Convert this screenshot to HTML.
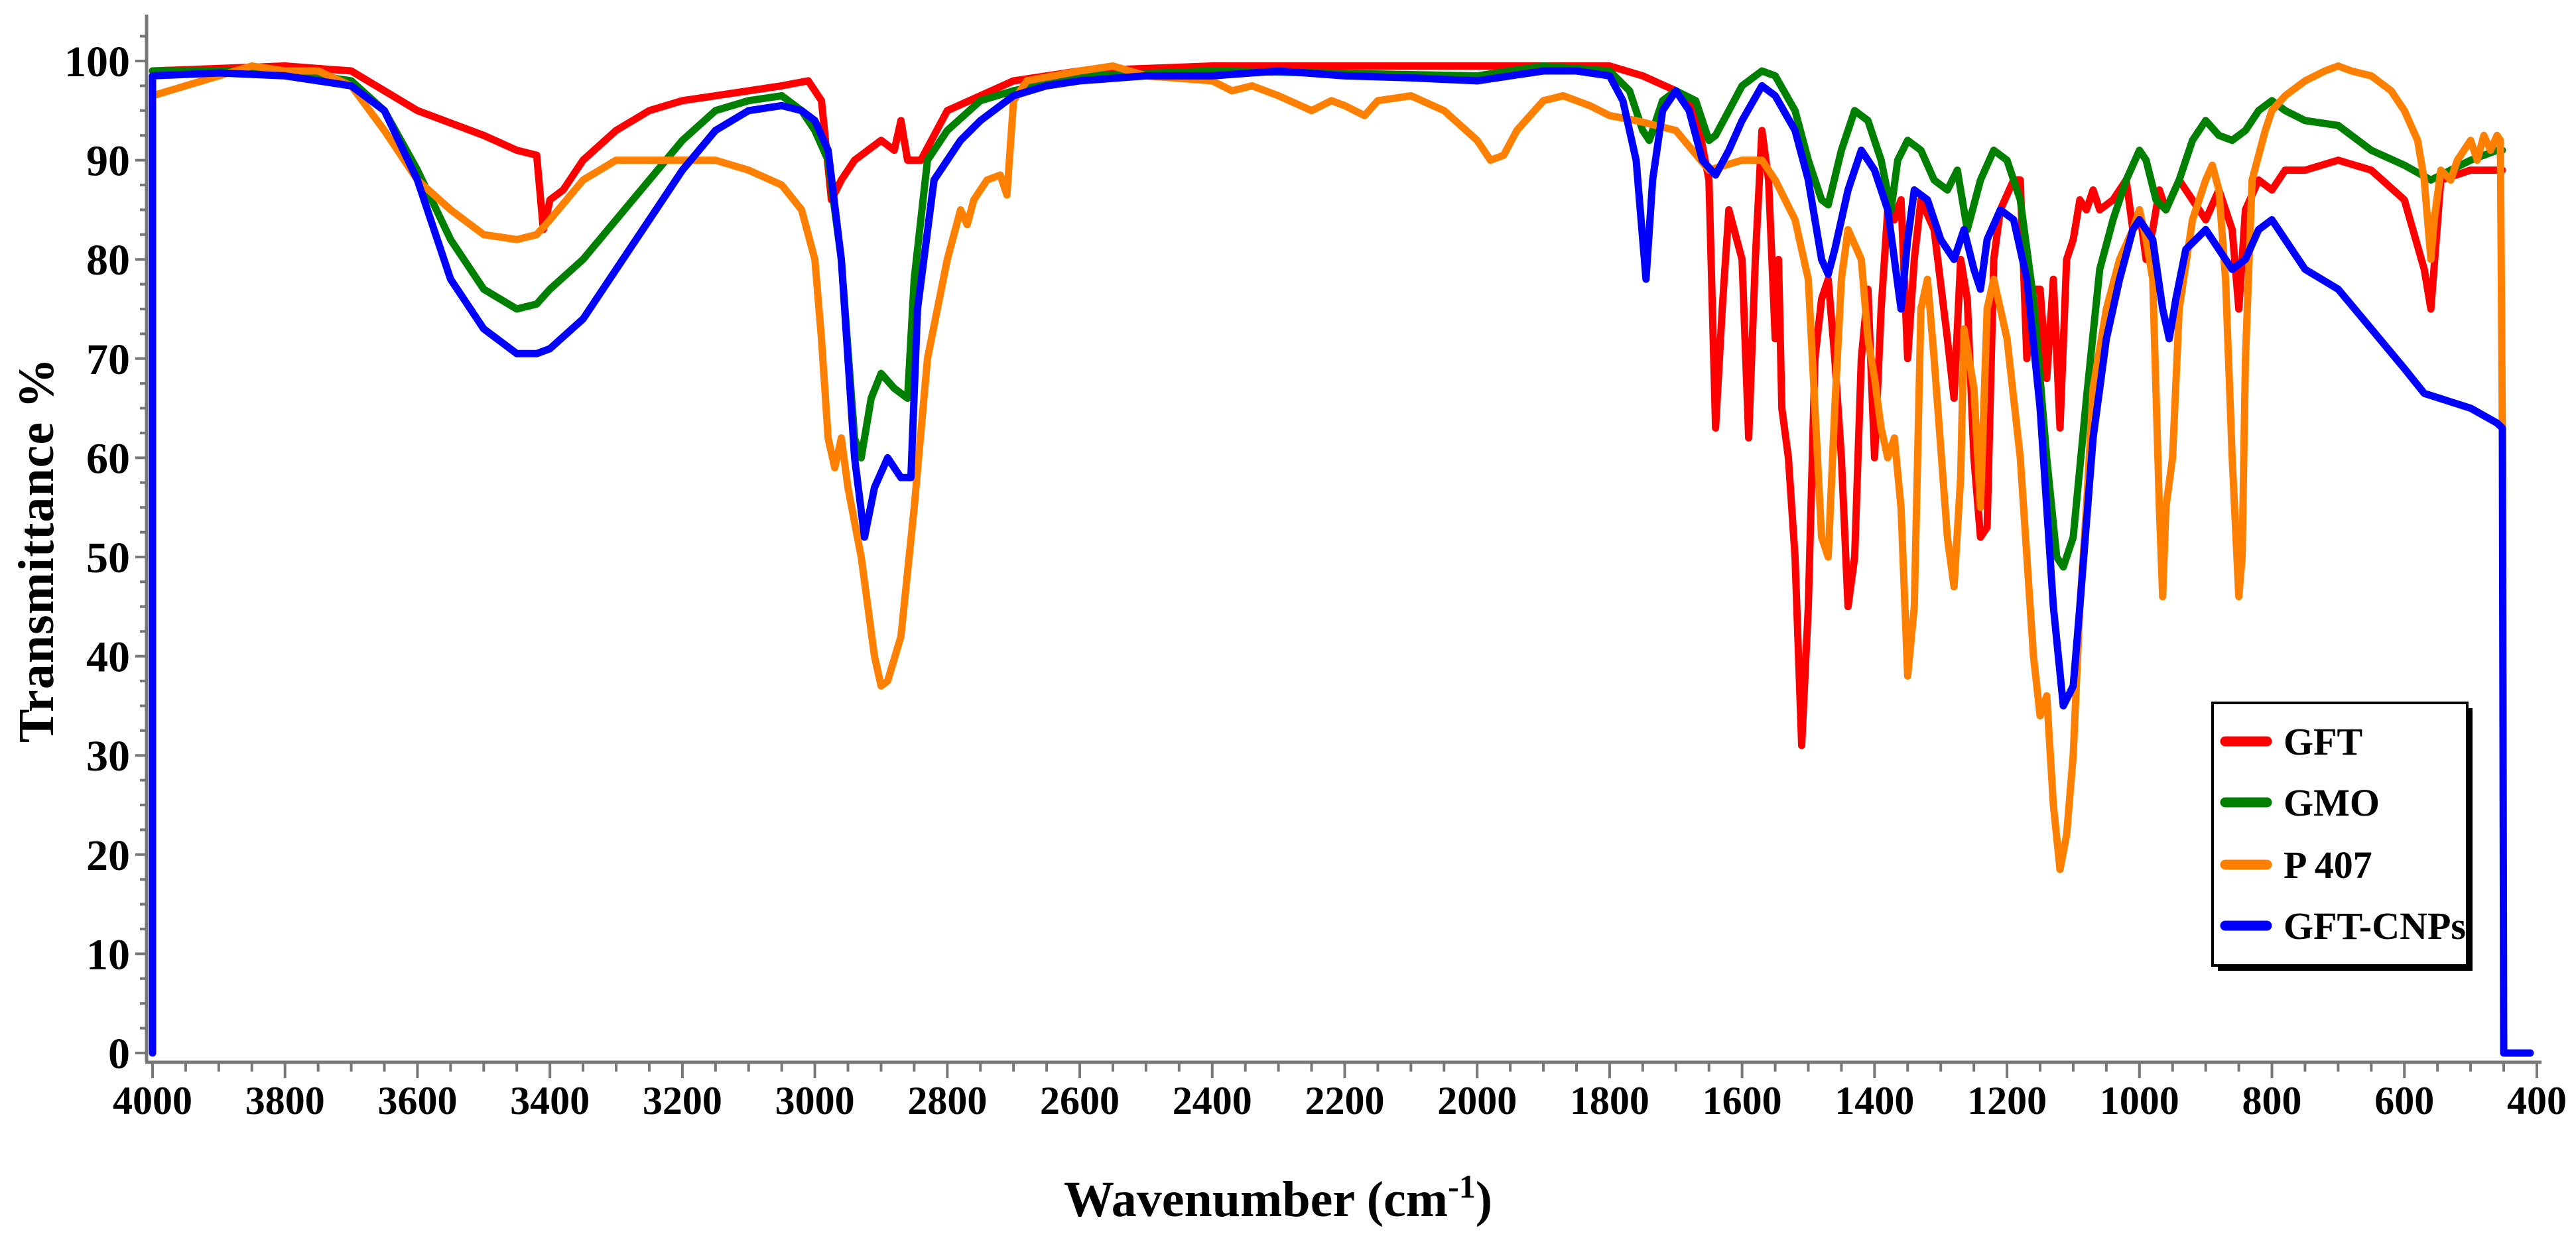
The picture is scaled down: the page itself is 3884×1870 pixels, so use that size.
<!DOCTYPE html>
<html><head><meta charset="utf-8"><title>FTIR spectra</title>
<style>
html,body{margin:0;padding:0;background:#fff;}
svg{display:block;}
text{font-family:"Liberation Serif",serif;fill:#000;}
</style></head>
<body>
<svg id="chart" width="3884" height="1870" viewBox="0 0 3884 1870" xmlns="http://www.w3.org/2000/svg">
<g id="axes"></g>
<g id="series"></g>
<g id="legend">
  <rect x="3344" y="1068" width="384" height="396" fill="#000"/>
  <rect x="3336" y="1060" width="384" height="396" fill="#fff" stroke="#000" stroke-width="4"/>
  <g><line x1="3355" y1="1118" x2="3418" y2="1118" stroke="#ff0000" stroke-width="15" stroke-linecap="round"/><text x="3443" y="1138" font-size="58" font-weight="bold">GFT</text></g>
  <g><line x1="3355" y1="1210" x2="3418" y2="1210" stroke="#008000" stroke-width="15" stroke-linecap="round"/><text x="3443" y="1230" font-size="58" font-weight="bold">GMO</text></g>
  <g><line x1="3355" y1="1304" x2="3418" y2="1304" stroke="#ff8000" stroke-width="15" stroke-linecap="round"/><text x="3443" y="1324" font-size="58" font-weight="bold">P 407</text></g>
  <g><line x1="3355" y1="1396" x2="3418" y2="1396" stroke="#0000ff" stroke-width="15" stroke-linecap="round"/><text x="3443" y="1416" font-size="58" font-weight="bold">GFT-CNPs</text></g>
</g>
<text x="1927" y="1834" font-size="76" font-weight="bold" text-anchor="middle">Wavenumber (cm<tspan font-size="50" dy="-28">-1</tspan><tspan dy="28">)</tspan></text>
<text transform="translate(80,830) rotate(-90)" font-size="76" font-weight="bold" text-anchor="middle" textLength="580">Transmittance %</text>
</svg>
<script>
const xTicks=[4000,3800,3600,3400,3200,3000,2800,2600,2400,2200,2000,1800,1600,1400,1200,1000,800,600,400];
const yTicks=[0,10,20,30,40,50,60,70,80,90,100];
const seriesNames=["GFT","GMO","P 407","GFT-CNPs"];
const gftData=[[4000,99],[3800,99.5],[3700,99],[3650,97],[3600,95],[3500,92.5],[3450,91],[3420,90.5],[3410,83],[3400,86],[3380,87],[3350,90],[3300,93],[3250,95],[3200,96],[3150,96.5],[3100,97],[3050,97.5],[3010,98],[2990,96],[2975,86],[2960,88],[2940,90],[2920,91],[2900,92],[2880,91],[2870,94],[2860,90],[2840,90],[2800,95],[2700,98],[2600,99],[2400,99.5],[2000,99.5],[1800,99.5],[1750,98.5],[1700,97],[1670,95],[1650,88],[1640,63],[1630,75],[1620,85],[1600,80],[1590,62],[1580,80],[1570,93],[1560,88],[1550,72],[1545,80],[1540,65],[1530,60],[1520,50],[1510,31],[1500,45],[1490,70],[1480,76],[1470,78],[1460,70],[1450,60],[1440,45],[1430,50],[1420,70],[1410,77],[1400,60],[1390,75],[1380,85],[1370,84],[1360,86],[1350,70],[1340,80],[1330,86],[1310,83],[1290,72],[1280,66],[1270,80],[1260,76],[1250,60],[1240,52],[1230,53],[1220,80],[1210,85],[1190,88],[1180,88],[1170,70],[1160,77],[1150,77],[1140,68],[1130,78],[1120,63],[1110,80],[1100,82],[1090,86],[1080,85],[1070,87],[1060,85],[1040,86],[1020,88],[1010,83],[1000,85],[990,80],[980,83],[970,87],[960,85],[940,88],[930,87],[900,84],[880,87],[860,83],[850,75],[840,85],[820,88],[800,87],[780,89],[750,89],[700,90],[650,89],[600,86],[570,79],[560,75],[545,88],[500,89],[460,89],[452,89]];
const gmoData=[[4000,99],[3800,99],[3700,98],[3650,95],[3600,89],[3550,82],[3500,77],[3450,75],[3420,75.5],[3400,77],[3350,80],[3300,84],[3250,88],[3200,92],[3150,95],[3100,96],[3050,96.5],[3020,95],[3000,93],[2980,90],[2960,80],[2940,62],[2930,60],[2915,66],[2900,68.5],[2880,67],[2860,66],[2850,78],[2830,90],[2800,93],[2750,96],[2700,97],[2600,98.5],[2400,99],[2000,98.5],[1900,99.5],[1800,99],[1770,97],[1750,93],[1740,92],[1720,96],[1700,97],[1670,96],[1650,92],[1640,92.5],[1620,95],[1600,97.5],[1570,99],[1550,98.5],[1520,95],[1500,90],[1480,86],[1470,85.5],[1450,91],[1430,95],[1410,94],[1390,90],[1375,85],[1365,90],[1350,92],[1330,91],[1310,88],[1290,87],[1275,89],[1260,83],[1240,88],[1220,91],[1200,90],[1180,86],[1160,76],[1140,60],[1125,50],[1115,49],[1100,52],[1080,66],[1060,79],[1040,84],[1020,88],[1000,91],[990,90],[975,86],[960,85],[940,88],[920,92],[900,94],[880,92.5],[860,92],[840,93],[820,95],[800,96],[780,95],[750,94],[700,93.5],[650,91],[600,89.5],[560,88],[500,90],[460,91],[452,91]];
const p407Data=[[4000,96.5],[3950,97.5],[3900,98.5],[3850,99.5],[3800,99],[3750,99],[3700,97.5],[3650,93],[3600,88],[3550,85],[3500,82.5],[3450,82],[3420,82.5],[3400,84],[3350,88],[3300,90],[3200,90],[3150,90],[3100,89],[3050,87.5],[3020,85],[3000,80],[2990,72],[2980,62],[2970,59],[2960,62],[2950,57],[2930,50],[2910,40],[2900,37],[2890,37.5],[2870,42],[2850,55],[2830,70],[2800,80],[2780,85],[2770,83.5],[2760,86],[2740,88],[2720,88.5],[2710,86.5],[2700,96],[2680,98],[2600,99],[2550,99.5],[2500,98.5],[2400,98],[2370,97],[2340,97.5],[2300,96.5],[2250,95],[2220,96],[2200,95.5],[2170,94.5],[2150,96],[2100,96.5],[2050,95],[2000,92],[1980,90],[1960,90.5],[1940,93],[1900,96],[1870,96.5],[1830,95.5],[1800,94.5],[1760,94],[1700,93],[1650,89],[1600,90],[1570,90],[1550,88],[1520,84],[1500,78],[1490,65],[1480,52],[1470,50],[1460,65],[1450,78],[1440,83],[1420,80],[1410,72],[1400,68],[1390,63],[1380,60],[1370,62],[1360,55],[1350,38],[1340,45],[1330,75],[1320,78],[1310,70],[1290,52],[1280,47],[1270,58],[1265,73],[1250,67],[1240,55],[1230,75],[1220,78],[1200,72],[1180,60],[1160,40],[1150,34],[1140,36],[1130,25],[1120,18.5],[1110,22],[1100,30],[1090,45],[1080,55],[1070,67],[1050,75],[1030,80],[1010,83],[1000,85],[990,82],[980,78],[970,55],[965,46],[960,55],[950,60],[940,75],[920,84],[900,88],[890,89.5],[880,87],[870,78],[860,60],[850,46],[845,50],[840,70],[830,88],[810,93],[800,95],[780,96.5],[750,98],[720,99],[700,99.5],[680,99],[650,98.5],[620,97],[600,95],[580,92],[570,88],[560,80],[555,84],[545,89],[530,88],[520,90],[500,92],[490,90],[480,92.5],[470,91],[460,92.5],[455,92],[452,62]];
const cnpData=[[4000,0],[4000,98.5],[3900,98.8],[3800,98.5],[3700,97.5],[3650,95],[3600,88],[3550,78],[3500,73],[3450,70.5],[3420,70.5],[3400,71],[3350,74],[3300,79],[3250,84],[3200,89],[3150,93],[3100,95],[3050,95.5],[3020,95],[3000,94],[2980,91],[2960,80],[2940,60],[2925,52],[2910,57],[2890,60],[2870,58],[2855,58],[2845,75],[2820,88],[2780,92],[2750,94],[2700,96.5],[2650,97.5],[2600,98],[2500,98.5],[2400,98.5],[2300,99],[2200,98.5],[2100,98.3],[2000,98],[1950,98.5],[1900,99],[1850,99],[1800,98.5],[1780,96],[1760,90],[1745,78],[1735,88],[1720,95],[1700,97],[1680,95],[1660,90],[1640,88.5],[1620,91],[1600,94],[1570,97.5],[1550,96.5],[1520,93],[1500,88],[1480,80],[1470,78.5],[1460,81],[1440,87],[1420,91],[1400,89],[1380,85],[1370,80],[1360,75],[1350,82],[1340,87],[1320,86],[1300,82],[1280,80],[1265,83],[1250,79],[1240,77],[1230,82],[1210,85],[1190,84],[1170,78],[1150,65],[1130,45],[1115,35],[1100,37],[1090,45],[1070,62],[1050,72],[1030,78],[1010,83],[1000,84],[980,82],[965,75],[955,72],[945,76],[930,81],[900,83],[880,81],[860,79],[840,80],[820,83],[800,84],[780,82],[750,79],[700,77],[650,73],[600,69],[570,66.5],[500,65],[460,63.5],[452,63],[450,0],[410,0]];

const X0=230, XPX=0.9986, Y0=1588, YPX=14.96;
function xs(w){return X0+(4000-w)*XPX;}
function ys(v){return Y0-v*YPX;}
const NS="http://www.w3.org/2000/svg";
const axes=document.getElementById('axes');
const seriesG=document.getElementById('series');
function mk(tag,attrs,parent){const e=document.createElementNS(NS,tag);for(const k in attrs)e.setAttribute(k,attrs[k]);parent.appendChild(e);return e;}

const yLine=mk('line',{x1:221,y1:22,x2:221,y2:1602,stroke:'#777',"stroke-width":5},axes);


const xLine=mk('line',{x1:219,y1:1602,x2:3832,y2:1602,stroke:'#777',"stroke-width":5},axes);



for(let v=0;v<=102.5;v+=2.5){
  const major=(v%10===0);
  const t=mk('line',{x1:major?204:211,y1:ys(v),x2:221,y2:ys(v),stroke:'#777',"stroke-width":4},axes);
  
  
}
yTicks.forEach(v=>{
  const t=mk('text',{x:196,y:ys(v)+23,"font-size":66,"font-weight":"bold","text-anchor":"end"},axes);
  t.textContent=String(v);
  
  
});
for(let w=4000;w>=400;w-=50){
  const major=(w%200===0);
  const t=mk('line',{x1:xs(w),y1:1602,x2:xs(w),y2:major?1626:1616,stroke:'#777',"stroke-width":4},axes);
  
  
}
xTicks.forEach(w=>{
  const t=mk('text',{x:xs(w),y:1680,"font-size":60,"font-weight":"bold","text-anchor":"middle"},axes);
  t.textContent=String(w);
  
  
});

function drawSeries(data,color,name){
  const d=data.map((p,i)=>(i?'L':'M')+xs(p[0]).toFixed(1)+' '+ys(p[1]).toFixed(1)).join(' ');
  const p=mk('path',{d:d,fill:'none',stroke:color,"stroke-width":11,"stroke-linejoin":"round","stroke-linecap":"round"},seriesG);
  
  
}
drawSeries(gftData,'#ff0000','series-gft');
drawSeries(gmoData,'#008000','series-gmo');
drawSeries(p407Data,'#ff8000','series-p407');
drawSeries(cnpData,'#0000ff','series-gft-cnps');
</script>
</body></html>
